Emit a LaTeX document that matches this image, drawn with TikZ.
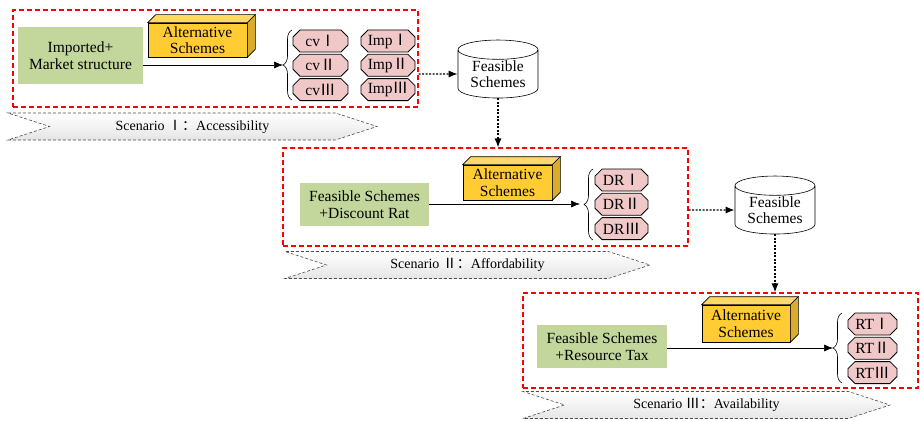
\documentclass[tikz,border=0pt]{standalone}
\usepackage{fontspec}
\setmainfont{Liberation Serif}
\newfontfamily\cjk{Noto Sans CJK SC}
\usetikzlibrary{arrows.meta,positioning,shapes.geometric,shapes.misc,shapes.symbols,decorations.pathreplacing}

\definecolor{inputgreen}{RGB}{195,214,155}
\definecolor{altyellow}{RGB}{255,204,51}
\definecolor{schemepink}{RGB}{240,200,200}

\newcommand{\numI}{{\cjk Ⅰ}}
\newcommand{\numII}{{\cjk Ⅱ}}
\newcommand{\numIII}{{\cjk Ⅲ}}
\newcommand{\wcolon}{{\cjk ：}}

\begin{document}
\begin{tikzpicture}[x=1pt,y=-1pt,>={Latex[length=9pt,width=7pt]},semithick,
                    font=\fontsize{15.5}{16.5}\selectfont]
  \tikzstyle{frame}=[draw=red,dash pattern=on 5pt off 3pt,line width=1.1pt,inner sep=0pt]
  \tikzstyle{inputbox}=[fill=inputgreen,align=center,inner sep=0pt]
  \tikzstyle{altbox}=[draw,fill=altyellow,align=center,inner sep=0pt]
  \tikzstyle{scheme}=[chamfered rectangle,chamfered rectangle xsep=4pt,draw,thick,
                      fill=schemepink,inner sep=0pt,minimum height=22pt]
  \tikzstyle{feasible}=[cylinder,shape border rotate=90,aspect=0.35,draw,fill=white,
                        align=center,minimum width=80pt,minimum height=58pt,inner sep=0pt]
  \tikzstyle{banner}=[signal,signal to=east,signal from=west,signal pointer angle=36,
                      draw=gray!60!black,densely dashed,top color=white,bottom color=gray!20,
                      minimum height=27pt,inner sep=0pt,font=\fontsize{14}{15}\selectfont]
  \tikzstyle{flow}=[->,dash pattern=on 2pt off 1.5pt,line width=1.2pt]

  \useasboundingbox (0,0) rectangle (920,420);

  % scenario I
  \node[frame,minimum width=405pt,minimum height=97pt]  (frameA) at (215.5,58.5) {};
  \node[inputbox,minimum width=125pt,minimum height=57pt] (inA) at (80.5,55.5) {Imported+\\Market structure};
  \node[altbox,minimum width=99pt,minimum height=34pt]  (altA) at (197.5,40) {Alternative\\Schemes};
  \node[scheme,minimum width=55pt] (cv1)  at (320.5,41)         {cv\numI};
  \node[scheme,minimum width=55pt] (cv2)  [below=1.5pt of cv1]  {cv\numII};
  \node[scheme,minimum width=55pt] (cv3)  [below=1.5pt of cv2]  {cv\numIII};
  \node[scheme,minimum width=54pt] (imp1) at (388,41)           {Imp\numI};
  \node[scheme,minimum width=54pt] (imp2) [below=1.5pt of imp1] {Imp\numII};
  \node[scheme,minimum width=54pt] (imp3) [below=1.5pt of imp2] {Imp\numIII};
  \coordinate (braceA) at (283,65);
  \node[feasible] (feasA) at (498,74) {Feasible\\Schemes};
  \node[banner,minimum width=369pt] (bannerA) at (192.5,126.5) {Scenario \numI\wcolon Accessibility};

  % scenario II
  \node[frame,minimum width=405pt,minimum height=98pt]  (frameB) at (485.5,197) {};
  \node[inputbox,minimum width=129pt,minimum height=43pt] (inB) at (364.5,204.5) {Feasible Schemes\\+Discount Rat};
  \node[altbox,minimum width=89pt,minimum height=35pt]  (altB) at (507.5,182.5) {Alternative\\Schemes};
  \node[scheme,minimum width=53pt] (dr1) at (621.5,180)        {DR\numI};
  \node[scheme,minimum width=53pt] (dr2) [below=1.5pt of dr1]  {DR\numII};
  \node[scheme,minimum width=53pt] (dr3) [below=1.5pt of dr2]  {DR\numIII};
  \coordinate (braceB) at (580,204);
  \node[feasible] (feasB) at (775,210) {Feasible\\Schemes};
  \node[banner,minimum width=365pt] (bannerB) at (467.5,265) {Scenario \numII\wcolon Affordability};

  % scenario III
  \node[frame,minimum width=395pt,minimum height=95pt]  (frameC) at (720.5,340.5) {};
  \node[inputbox,minimum width=130pt,minimum height=43pt] (inC) at (602,346.5) {Feasible Schemes\\+Resource Tax};
  \node[altbox,minimum width=88pt,minimum height=37pt]  (altC) at (746,323.5) {Alternative\\Schemes};
  \node[scheme,minimum width=49pt] (rt1) at (872.5,324)        {RT\numI};
  \node[scheme,minimum width=49pt] (rt2) [below=1.5pt of rt1]  {RT\numII};
  \node[scheme,minimum width=49pt] (rt3) [below=1.5pt of rt2]  {RT\numIII};
  \coordinate (braceC) at (833,348);
  \node[banner,minimum width=367pt] (bannerC) at (706.5,405) {Scenario \numIII\wcolon Availability};

  % cuboid faces
  \foreach \n in {altA,altB,altC}{
    \filldraw[fill=altyellow!75!white] (\n.north west) -- ++(8,-8)
      -- ([shift={(8,-8)}]\n.north east) -- (\n.north east) -- cycle;
    \filldraw[fill=altyellow!85!black] (\n.north east) -- ++(8,-8)
      -- ([shift={(8,-8)}]\n.south east) -- (\n.south east) -- cycle;
  }

  % braces
  \draw[decorate,decoration={brace,amplitude=9pt}] (292,100) -- (292,30);
  \draw[decorate,decoration={brace,amplitude=9pt}] (593,240) -- (593,169);
  \draw[decorate,decoration={brace,amplitude=9pt}] (842,383) -- (842,313);

  \draw[->] (inA.east |- braceA) -- (braceA);
  \draw[->] (inB.east |- braceB) -- (braceB);
  \draw[->] (inC.east |- braceC) -- (braceC);

  \draw[flow] (frameA.east |- feasA) -- (feasA);
  \draw[flow] (feasA) -- (feasA |- frameB.north);
  \draw[flow] (frameB.east |- feasB) -- (feasB);
  \draw[flow] (feasB) -- (feasB |- frameC.north);
\end{tikzpicture}
\end{document}
